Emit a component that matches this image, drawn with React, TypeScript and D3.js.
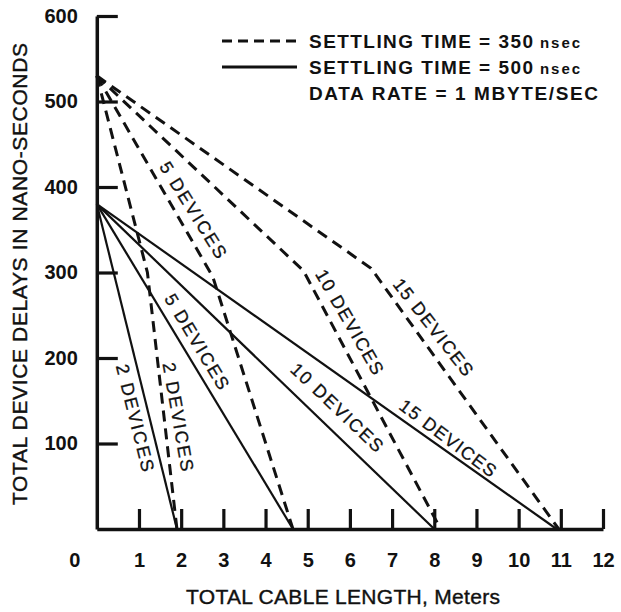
import React, { useEffect, useRef } from 'react';
import * as d3 from 'd3';

// cable length (m) vs total device delay (ns)
const xTicks = [1, 2, 3, 4, 5, 6, 7, 8, 9, 10, 11, 12];
const yTicks = [100, 200, 300, 400, 500, 600];

// settling time = 500 nsec (solid)
const solid2: [number, number][] = [[0, 380], [1.9, 0]];
const solid5: [number, number][] = [[0, 380], [4.65, 0]];
const solid10: [number, number][] = [[0, 380], [8.0, 0]];
const solid15: [number, number][] = [[0, 380], [10.9, 0]];

// settling time = 350 nsec (dashed)
const dashed2: [number, number][] = [[0, 530], [1.2, 300], [1.9, 0]];
const dashed5: [number, number][] = [[0, 530], [2.75, 295], [4.65, 0]];
const dashed10: [number, number][] = [[0, 530], [4.9, 302], [8.15, 0]];
const dashed15: [number, number][] = [[0, 530], [6.5, 305], [10.95, 0]];

const solidSeries = [solid2, solid5, solid10, solid15];
const dashedSeries = [dashed2, dashed5, dashed10, dashed15];

// curve labels: text, centre in data units, angle, length
const curveLabels: { text: string; at: [number, number]; angle: number; len: number }[] = [
  { text: '2 DEVICES', at: [0.905, 130], angle: 76, len: 110 },
  { text: '2 DEVICES', at: [1.925, 131], angle: 80, len: 110 },
  { text: '5 DEVICES', at: [2.37, 219], angle: 59, len: 108 },
  { text: '5 DEVICES', at: [2.28, 373], angle: 58, len: 110 },
  { text: '10 DEVICES', at: [5.69, 142], angle: 43.5, len: 120 },
  { text: '10 DEVICES', at: [5.99, 242], angle: 60, len: 118 },
  { text: '15 DEVICES', at: [8.32, 106], angle: 37, len: 116 },
  { text: '15 DEVICES', at: [7.97, 236], angle: 52, len: 118 },
];

const legendRows = [
  { label: 'SETTLING TIME = 350', unit: 'nsec', dashed: true },
  { label: 'SETTLING TIME = 500', unit: 'nsec', dashed: false },
];
const legendNote = 'DATA RATE = 1 MBYTE/SEC';

const FONT = "'Liberation Sans', Arial, Helvetica, sans-serif";
const INK = '#111';

const App = () => {
  const ref = useRef<SVGSVGElement>(null);

  useEffect(() => {
    const svg = d3.select(ref.current);
    svg.selectAll('*').remove();

    const x = d3.scaleLinear().domain([0, 12]).range([96.8, 603]);
    const y = d3.scaleLinear().domain([0, 600]).range([529, 16]);
    const line = d3
      .line<[number, number]>()
      .x((d) => x(d[0]))
      .y((d) => y(d[1]));

    svg.append('rect').attr('width', 621).attr('height', 612).attr('fill', '#fff');

    // curves
    svg
      .append('g')
      .selectAll('path')
      .data(solidSeries)
      .join('path')
      .attr('d', (d) => line(d))
      .attr('fill', 'none')
      .attr('stroke', INK)
      .attr('stroke-width', 2.2);

    svg
      .append('g')
      .selectAll('path')
      .data(dashedSeries)
      .join('path')
      .attr('d', (d) => line(d))
      .attr('fill', 'none')
      .attr('stroke', INK)
      .attr('stroke-width', 3)
      .attr('stroke-dasharray', '11 7');

    // axes, ticks pointing inward
    const yAxis = svg
      .append('g')
      .attr('transform', `translate(${x(0)},0)`)
      .call(
        d3
          .axisLeft(y)
          .tickValues(yTicks)
          .tickSize(-21)
          .tickSizeOuter(0)
          .tickPadding(19)
          .tickFormat(d3.format('d')),
      );

    const xAxis = svg
      .append('g')
      .attr('transform', `translate(0,${y(0)})`)
      .call(
        d3
          .axisBottom(x)
          .tickValues(xTicks)
          .tickSize(-20)
          .tickSizeOuter(0)
          .tickPadding(24)
          .tickFormat(d3.format('d')),
      );

    [yAxis, xAxis].forEach((g) => {
      g.select('.domain').attr('stroke', INK).attr('stroke-width', 3.5);
      g.selectAll('.tick line').attr('stroke', INK).attr('stroke-width', 3.2);
      g.selectAll('.tick text')
        .attr('fill', INK)
        .attr('font-family', FONT)
        .attr('font-size', 20)
        .attr('font-weight', 'bold');
    });

    // origin label sits in the x tick row
    svg
      .append('text')
      .attr('x', x(0) - 22)
      .attr('y', y(0) + 38)
      .attr('text-anchor', 'middle')
      .attr('font-family', FONT)
      .attr('font-size', 20)
      .attr('font-weight', 'bold')
      .attr('fill', INK)
      .text('0');

    // axis titles
    svg
      .append('text')
      .attr('transform', `translate(27,274) rotate(-90)`)
      .attr('text-anchor', 'middle')
      .attr('font-family', FONT)
      .attr('font-size', 21)
      .attr('fill', INK)
      .attr('stroke', INK)
      .attr('stroke-width', 0.4)
      .attr('textLength', 462)
      .attr('lengthAdjust', 'spacing')
      .text('TOTAL DEVICE DELAYS IN NANO-SECONDS');

    svg
      .append('text')
      .attr('x', 343)
      .attr('y', 604)
      .attr('text-anchor', 'middle')
      .attr('font-family', FONT)
      .attr('font-size', 21)
      .attr('fill', INK)
      .attr('stroke', INK)
      .attr('stroke-width', 0.4)
      .attr('textLength', 314)
      .attr('lengthAdjust', 'spacing')
      .text('TOTAL CABLE LENGTH, Meters');

    // curve labels
    svg
      .append('g')
      .selectAll('text')
      .data(curveLabels)
      .join('text')
      .attr('transform', (d) => `translate(${x(d.at[0])},${y(d.at[1])}) rotate(${d.angle})`)
      .attr('text-anchor', 'middle')
      .attr('dominant-baseline', 'central')
      .attr('font-family', FONT)
      .attr('font-size', 18)
      .attr('fill', INK)
      .attr('stroke', INK)
      .attr('stroke-width', 0.3)
      .attr('textLength', (d) => d.len)
      .attr('lengthAdjust', 'spacing')
      .text((d) => d.text);

    // legend
    const legend = svg.append('g').attr('font-family', FONT).attr('fill', INK);
    legendRows.forEach((row, i) => {
      const cy = 41 + i * 26;
      legend
        .append('line')
        .attr('x1', 222)
        .attr('x2', 297)
        .attr('y1', cy)
        .attr('y2', cy)
        .attr('stroke', INK)
        .attr('stroke-width', 3)
        .attr('stroke-dasharray', row.dashed ? '10 6' : null);
      legend
        .append('text')
        .attr('x', 309)
        .attr('y', cy + 7)
        .attr('font-size', 19)
        .attr('font-weight', 'bold')
        .attr('textLength', 224)
        .attr('lengthAdjust', 'spacing')
        .text(row.label);
      legend
        .append('text')
        .attr('x', 540)
        .attr('y', cy + 7)
        .attr('font-size', 15)
        .attr('font-weight', 'bold')
        .attr('textLength', 40)
        .attr('lengthAdjust', 'spacing')
        .text(row.unit);
    });
    legend
      .append('text')
      .attr('x', 309)
      .attr('y', 100)
      .attr('font-size', 19)
      .attr('font-weight', 'bold')
      .attr('textLength', 289)
      .attr('lengthAdjust', 'spacing')
      .text(legendNote);
  }, []);

  return (
    <svg
      ref={ref}
      width={621}
      height={612}
      style={{ position: 'absolute', left: 0, top: 0, display: 'block' }}
    />
  );
};

export default App;
